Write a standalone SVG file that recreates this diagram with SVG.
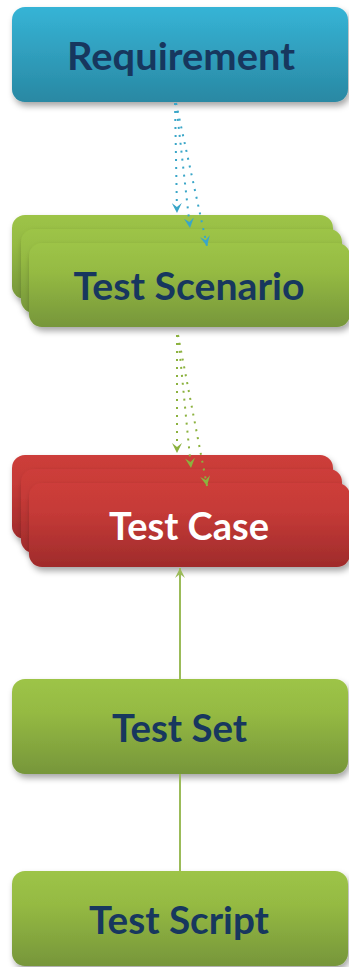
<svg xmlns="http://www.w3.org/2000/svg" width="349" height="967" viewBox="0 0 349 967">
<style>
.lbl{font-family:Lato,"Open Sans","Liberation Sans",sans-serif;font-weight:bold;font-size:38px;fill:#17375e;text-anchor:middle}
.white{fill:#ffffff}
.dotb{fill:none;stroke:#3aa6c8;stroke-width:2;stroke-dasharray:2 6}
.dotg{fill:none;stroke:#8cb23f;stroke-width:2;stroke-dasharray:2 6}
.solid{fill:none;stroke:#9bbb59;stroke-width:2}
</style>
<defs>
<linearGradient id="gBlue" x1="0" y1="0" x2="0" y2="1">
<stop offset="0" stop-color="#36b4d6"/><stop offset="1" stop-color="#2988a3"/>
</linearGradient>
<linearGradient id="gGreen" x1="0" y1="0" x2="0" y2="1">
<stop offset="0" stop-color="#9dc447"/><stop offset="0.35" stop-color="#95ba43"/><stop offset="1" stop-color="#76963a"/>
</linearGradient>
<linearGradient id="gRed" x1="0" y1="0" x2="0" y2="1">
<stop offset="0" stop-color="#cd3d3a"/><stop offset="0.35" stop-color="#c53a37"/><stop offset="1" stop-color="#9f2b2b"/>
</linearGradient>
<filter id="sh" x="-10%" y="-20%" width="125%" height="150%">
<feDropShadow dx="2" dy="4" stdDeviation="3" flood-color="#000" flood-opacity="0.35"/>
</filter>
<marker id="aB" viewBox="0 0 10 10" refX="10" refY="5" markerWidth="10" markerHeight="10" markerUnits="userSpaceOnUse" orient="auto">
<path d="M0,0 L10,5 L0,10 L4,5 z" fill="#3aa6c8"/>
</marker>
<marker id="aG" viewBox="0 0 10 10" refX="10" refY="5" markerWidth="10" markerHeight="10" markerUnits="userSpaceOnUse" orient="auto">
<path d="M0,0 L10,5 L0,10 L4,5 z" fill="#8cb23f"/>
</marker>
<marker id="aS" viewBox="0 0 10 10" refX="10" refY="5" markerWidth="10" markerHeight="10" markerUnits="userSpaceOnUse" orient="auto">
<path d="M0,0 L10,5 L0,10 L4,5 z" fill="#9bbb59"/>
</marker>
</defs>

<g id="requirement">
<rect x="12" y="7" width="336" height="95" rx="13" fill="url(#gBlue)" filter="url(#sh)"/>
<text class="lbl" x="181" y="70" textLength="228" lengthAdjust="spacingAndGlyphs">Requirement</text>
</g>

<g id="test-scenario">
<rect x="12" y="215" width="321" height="84" rx="13" fill="url(#gGreen)" filter="url(#sh)"/>
<rect x="21" y="229" width="321" height="84" rx="13" fill="url(#gGreen)" filter="url(#sh)"/>
<rect x="29" y="243" width="321" height="84" rx="13" fill="url(#gGreen)" filter="url(#sh)"/>
<text class="lbl" x="189" y="300" textLength="231" lengthAdjust="spacingAndGlyphs">Test Scenario</text>
</g>

<g id="test-case">
<rect x="12" y="455" width="321" height="84" rx="13" fill="url(#gRed)" filter="url(#sh)"/>
<rect x="21" y="469" width="321" height="84" rx="13" fill="url(#gRed)" filter="url(#sh)"/>
<rect x="29" y="483" width="321" height="84" rx="13" fill="url(#gRed)" filter="url(#sh)"/>
<text class="lbl white" x="189" y="540" textLength="160" lengthAdjust="spacingAndGlyphs">Test Case</text>
</g>

<g id="test-set">
<rect x="12" y="679" width="336" height="95" rx="13" fill="url(#gGreen)" filter="url(#sh)"/>
<text class="lbl" x="179.5" y="742" textLength="135" lengthAdjust="spacingAndGlyphs">Test Set</text>
</g>

<g id="test-script">
<rect x="12" y="871" width="336" height="95" rx="13" fill="url(#gGreen)" filter="url(#sh)"/>
<text class="lbl" x="179" y="934" textLength="180" lengthAdjust="spacingAndGlyphs">Test Script</text>
</g>

<g id="connectors">
<path class="dotb" d="M175,103 L177,213" marker-end="url(#aB)"/>
<path class="dotb" d="M176,103 L190,228" marker-end="url(#aB)"/>
<path class="dotb" d="M176,103 L207,246" marker-end="url(#aB)"/>
<path class="dotg" d="M177,335 L177,453" marker-end="url(#aG)"/>
<path class="dotg" d="M178,335 L191,468" marker-end="url(#aG)"/>
<path class="dotg" d="M178,335 L207,486" marker-end="url(#aG)"/>
<path class="solid" d="M180,679 L180,568" marker-end="url(#aS)"/>
<path class="solid" d="M180,774 L180,871"/>
</g>
</svg>
